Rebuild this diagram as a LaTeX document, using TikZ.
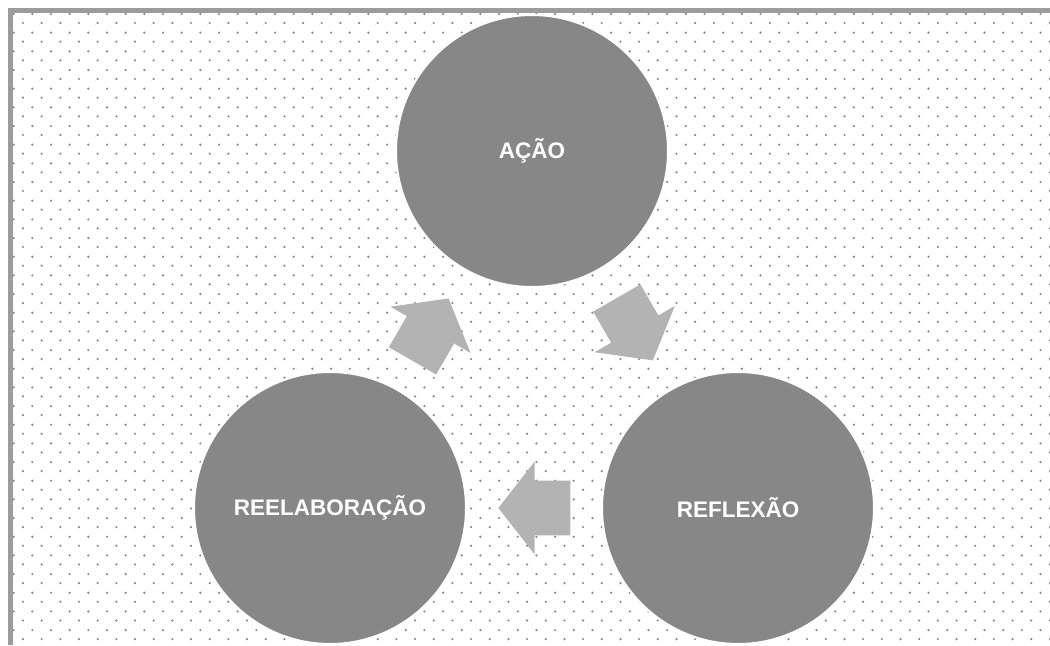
\documentclass[tikz,border=0pt]{standalone}
\usepackage{fontspec}
\setmainfont{Liberation Sans}
\usetikzlibrary{shapes.arrows,calc}
\definecolor{stagegray}{HTML}{878787}
\definecolor{arrowgray}{HTML}{B3B3B3}
\definecolor{framegray}{HTML}{9C9C9C}
\definecolor{dotgray}{HTML}{858585}
\begin{document}
\begin{tikzpicture}[x=0.025cm,y=-0.025cm,
  stage/.style={circle,fill=stagegray,draw=white,line width=1.5pt,minimum size=6.8cm,inner sep=0pt,text=white,font=\bfseries\fontsize{16}{19}\selectfont},
  turn/.style={single arrow,fill=arrowgray,anchor=tip,minimum height=1.8cm,text height=1.35cm,text depth=0pt,text width=0pt,single arrow head extend=0.475cm,single arrow tip angle=104,inner sep=0pt}]
\useasboundingbox (0,0) rectangle (1050,645);
% dotted paper
\foreach \a in {0,...,56}
\foreach \b in {0,...,34} {
\fill[dotgray] (13.67+18.67*\a,14+18.67*\b) circle (0.03cm);
\fill[dotgray] (23+18.67*\a,23+18.67*\b) circle (0.03cm);
}
\draw[framegray,line width=0.125cm] (10.5,645) -- (10.5,10.5) -- (1050,10.5);
% cycle
\node[stage] (acao) at (532,151) {AÇÃO};
\node[stage] (reflexao) at (738,508) {REFLEXÃO};
\node[stage] (reelab) at (330,508) {REELABORAÇÃO};
\node[turn,rotate=-60] (toreflexao) at ($($(acao)!0.5!(reflexao)$)!0.9cm!(reflexao)$) {};
\node[turn,rotate=180] (toreelab) at ($($(reflexao)!0.5!(reelab)$)!0.9cm!(reelab)$) {};
\node[turn,rotate=60] (toacao) at ($($(reelab)!0.5!(acao)$)!0.9cm!(acao)$) {};
\end{tikzpicture}
\end{document}
